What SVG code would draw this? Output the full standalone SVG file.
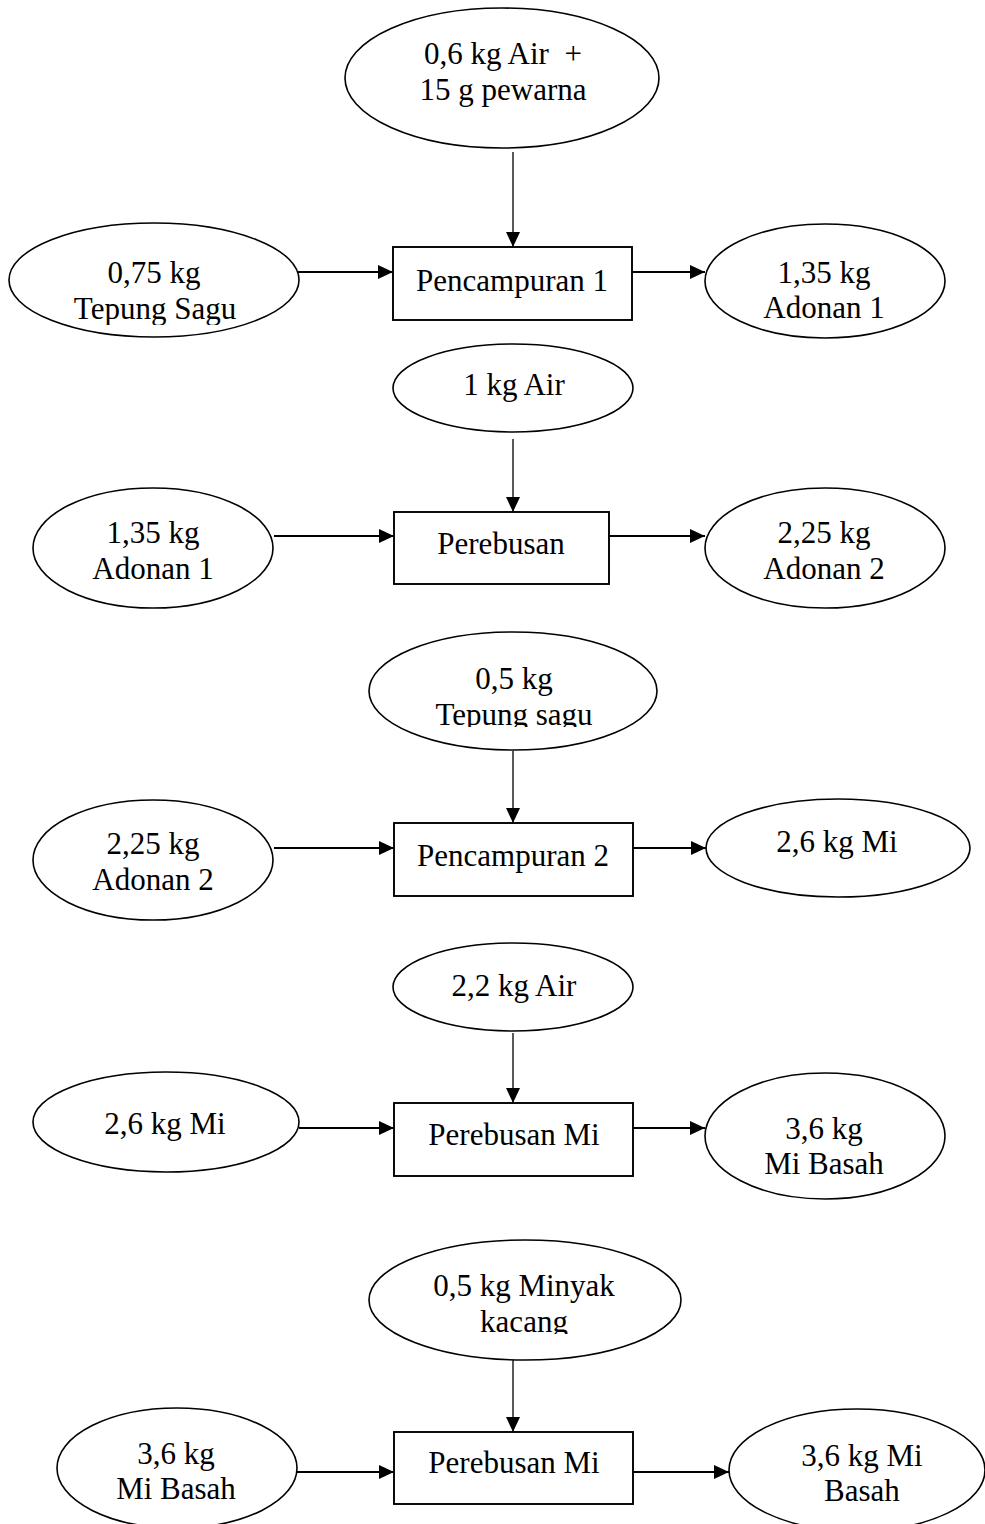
<svg xmlns="http://www.w3.org/2000/svg" width="985" height="1524" viewBox="0 0 985 1524">
  <style>
    .stream { fill: #ffffff; stroke: #000000; stroke-width: 1.6; }
    .process { fill: #ffffff; stroke: #000000; stroke-width: 1.9; }
    .label { font-family: "Liberation Serif", "Times New Roman", serif; font-size: 31px; fill: #000000; text-anchor: middle; white-space: pre; }
    .flow { stroke: #000000; stroke-width: 2; fill: none; marker-end: url(#head); }
    .feed { stroke: #000000; stroke-width: 1.3; fill: none; marker-end: url(#head); }
  </style>
  <defs>
    <marker id="head" markerUnits="userSpaceOnUse" markerWidth="16" markerHeight="14" refX="15" refY="7" orient="auto">
      <path d="M0,0 L15,7 L0,14 Z" fill="#000000"/>
    </marker>
    <clipPath id="clip-sagu1"><rect x="0" y="0" width="985" height="325"/></clipPath>
    <clipPath id="clip-sagu2"><rect x="0" y="0" width="985" height="727"/></clipPath>
    <clipPath id="clip-kacang"><rect x="0" y="0" width="985" height="1334"/></clipPath>
  </defs>

  <rect x="0" y="0" width="985" height="1524" fill="#ffffff"/>

  <!-- connectors -->
  <g id="connectors">
    <line class="feed" x1="513" y1="152" x2="513" y2="247"/>
    <line class="flow" x1="298" y1="272" x2="393" y2="272"/>
    <line class="flow" x1="632" y1="272" x2="705" y2="272"/>

    <line class="feed" x1="513" y1="439" x2="513" y2="512"/>
    <line class="flow" x1="274" y1="536" x2="394" y2="536"/>
    <line class="flow" x1="609" y1="536" x2="705" y2="536"/>

    <line class="feed" x1="513" y1="751" x2="513" y2="823"/>
    <line class="flow" x1="274" y1="848" x2="394" y2="848"/>
    <line class="flow" x1="633" y1="848" x2="706" y2="848"/>

    <line class="feed" x1="513" y1="1033" x2="513" y2="1103"/>
    <line class="flow" x1="299" y1="1128" x2="394" y2="1128"/>
    <line class="flow" x1="633" y1="1128" x2="705" y2="1128"/>

    <line class="feed" x1="513" y1="1357" x2="513" y2="1432"/>
    <line class="flow" x1="297" y1="1472" x2="394" y2="1472"/>
    <line class="flow" x1="633" y1="1472" x2="729" y2="1472"/>
  </g>

  <!-- stage 1: Pencampuran 1 -->
  <g id="in-air-pewarna">
    <ellipse class="stream" cx="502" cy="78" rx="157" ry="70"/>
    <text class="label" x="503" y="64">0,6 kg Air  +</text>
    <text class="label" x="503" y="100">15 g pewarna</text>
  </g>
  <g id="in-tepung-sagu-1">
    <ellipse class="stream" cx="154" cy="280" rx="145" ry="57"/>
    <g clip-path="url(#clip-sagu1)">
      <text class="label" x="154" y="283">0,75 kg</text>
      <text class="label" x="155" y="319">Tepung Sagu</text>
    </g>
  </g>
  <g id="proc-pencampuran-1">
    <rect class="process" x="393" y="247" width="239" height="73"/>
    <text class="label" x="512" y="291">Pencampuran 1</text>
  </g>
  <g id="out-adonan-1">
    <ellipse class="stream" cx="825" cy="281" rx="120" ry="57"/>
    <text class="label" x="824" y="283">1,35 kg</text>
    <text class="label" x="824" y="318">Adonan 1</text>
  </g>

  <!-- stage 2: Perebusan -->
  <g id="in-air-1kg">
    <ellipse class="stream" cx="513" cy="388" rx="120" ry="44"/>
    <text class="label" x="514" y="395">1 kg Air</text>
  </g>
  <g id="in-adonan-1">
    <ellipse class="stream" cx="153" cy="548" rx="120" ry="60"/>
    <text class="label" x="153" y="543">1,35 kg</text>
    <text class="label" x="153" y="579">Adonan 1</text>
  </g>
  <g id="proc-perebusan">
    <rect class="process" x="394" y="512" width="215" height="72"/>
    <text class="label" x="501" y="554">Perebusan</text>
  </g>
  <g id="out-adonan-2">
    <ellipse class="stream" cx="825" cy="548" rx="120" ry="60"/>
    <text class="label" x="824" y="543">2,25 kg</text>
    <text class="label" x="824" y="579">Adonan 2</text>
  </g>

  <!-- stage 3: Pencampuran 2 -->
  <g id="in-tepung-sagu-2">
    <ellipse class="stream" cx="513" cy="691" rx="144" ry="59"/>
    <g clip-path="url(#clip-sagu2)">
      <text class="label" x="514" y="689">0,5 kg</text>
      <text class="label" x="514" y="725">Tepung sagu</text>
    </g>
  </g>
  <g id="in-adonan-2">
    <ellipse class="stream" cx="153" cy="860" rx="120" ry="60"/>
    <text class="label" x="153" y="854">2,25 kg</text>
    <text class="label" x="153" y="890">Adonan 2</text>
  </g>
  <g id="proc-pencampuran-2">
    <rect class="process" x="394" y="823" width="239" height="73"/>
    <text class="label" x="513" y="866">Pencampuran 2</text>
  </g>
  <g id="out-mi">
    <ellipse class="stream" cx="838" cy="848" rx="132" ry="49"/>
    <text class="label" x="837" y="852">2,6 kg Mi</text>
  </g>

  <!-- stage 4: Perebusan Mi -->
  <g id="in-air-2kg">
    <ellipse class="stream" cx="513" cy="987" rx="120" ry="44"/>
    <text class="label" x="514" y="996">2,2 kg Air</text>
  </g>
  <g id="in-mi">
    <ellipse class="stream" cx="166" cy="1122" rx="133" ry="50"/>
    <text class="label" x="165" y="1134">2,6 kg Mi</text>
  </g>
  <g id="proc-perebusan-mi-1">
    <rect class="process" x="394" y="1103" width="239" height="73"/>
    <text class="label" x="514" y="1145">Perebusan Mi</text>
  </g>
  <g id="out-mi-basah-1">
    <ellipse class="stream" cx="825" cy="1136" rx="120" ry="63"/>
    <text class="label" x="824" y="1139">3,6 kg</text>
    <text class="label" x="824" y="1174">Mi Basah</text>
  </g>

  <!-- stage 5: Perebusan Mi with minyak -->
  <g id="in-minyak">
    <ellipse class="stream" cx="525" cy="1300" rx="156" ry="60"/>
    <g clip-path="url(#clip-kacang)">
      <text class="label" x="524" y="1296">0,5 kg Minyak</text>
      <text class="label" x="524" y="1332">kacang</text>
    </g>
  </g>
  <g id="in-mi-basah">
    <ellipse class="stream" cx="177" cy="1468" rx="120" ry="60"/>
    <text class="label" x="176" y="1464">3,6 kg</text>
    <text class="label" x="176" y="1499">Mi Basah</text>
  </g>
  <g id="proc-perebusan-mi-2">
    <rect class="process" x="394" y="1432" width="239" height="72"/>
    <text class="label" x="514" y="1473">Perebusan Mi</text>
  </g>
  <g id="out-mi-basah-2">
    <ellipse class="stream" cx="857" cy="1470" rx="128" ry="61"/>
    <text class="label" x="862" y="1466">3,6 kg Mi</text>
    <text class="label" x="862" y="1501">Basah</text>
  </g>
</svg>
